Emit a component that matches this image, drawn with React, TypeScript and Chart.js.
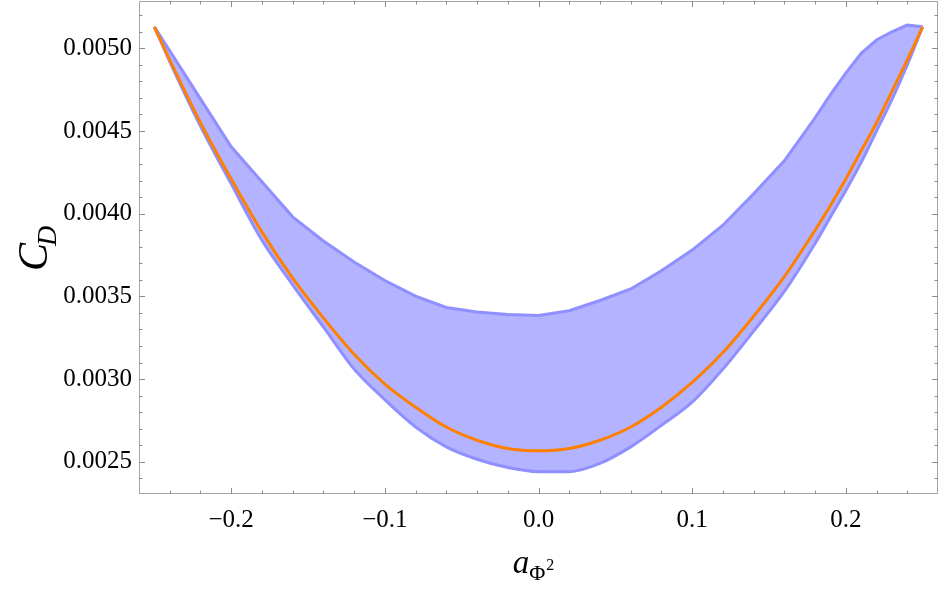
import React, { useEffect, useRef } from 'react';
import { Chart, registerables } from 'chart.js';

Chart.register(...registerables);

// ---- data ----
const xValues = [
  -0.25, -0.24, -0.22, -0.2, -0.18, -0.16, -0.14, -0.12, -0.1, -0.08, -0.06, -0.04, -0.02, 0,
  0.02, 0.04, 0.06, 0.08, 0.1, 0.12, 0.14, 0.16, 0.18, 0.19, 0.2, 0.21, 0.22, 0.23, 0.24, 0.25,
];

const upperBand = [
  0.00513, 0.004985, 0.004694, 0.004404, 0.004193, 0.003981, 0.003835, 0.003708, 0.003596, 0.003502,
  0.003433, 0.003405, 0.00339, 0.003385, 0.003413, 0.003475, 0.003545, 0.003655, 0.00378, 0.00393,
  0.00412, 0.00432, 0.00458, 0.00472, 0.00485, 0.00497, 0.00505, 0.0051, 0.00514, 0.00513,
];

const lowerBand = [
  0.00513, 0.00492, 0.00453, 0.00418, 0.00384, 0.00357, 0.003315, 0.00306, 0.002875, 0.00271,
  0.00259, 0.002515, 0.002465, 0.00244, 0.00244, 0.00249, 0.00259, 0.00272, 0.00286, 0.00306,
  0.00329, 0.00353, 0.00382, 0.00398, 0.00414, 0.00431, 0.0045, 0.00469, 0.0049, 0.00513,
];

const centralCurve = [
  0.00513, 0.00493, 0.00455, 0.00421, 0.00389, 0.00361, 0.00337, 0.00315, 0.00297, 0.00283,
  0.00271, 0.00263, 0.00258, 0.002566, 0.00258, 0.00263, 0.00271, 0.00283, 0.00298, 0.00316,
  0.00338, 0.00362, 0.0039, 0.00405, 0.00421, 0.00438, 0.00455, 0.00474, 0.00493, 0.00513,
];

const xMajorTicks = [-0.2, -0.1, 0, 0.1, 0.2];
const xTickLabels = ['\u22120.2', '\u22120.1', '0.0', '0.1', '0.2'];
const xMinorTicks = [
  -0.24, -0.22, -0.18, -0.16, -0.14, -0.12, -0.08, -0.06, -0.04, -0.02,
  0.02, 0.04, 0.06, 0.08, 0.12, 0.14, 0.16, 0.18, 0.22, 0.24,
];
const yMajorTicks = [0.0025, 0.003, 0.0035, 0.004, 0.0045, 0.005];
const yTickLabels = ['0.0025', '0.0030', '0.0035', '0.0040', '0.0045', '0.0050'];
const yMinorTicks = [
  0.0024, 0.0026, 0.0027, 0.0028, 0.0029, 0.0031, 0.0032, 0.0033, 0.0034, 0.0036, 0.0037, 0.0038,
  0.0039, 0.0041, 0.0042, 0.0043, 0.0044, 0.0046, 0.0047, 0.0048, 0.0049, 0.0051, 0.0052,
];

const X_MIN = -0.26;
const X_MAX = 0.26;
const Y_MIN = 0.002305;
const Y_MAX = 0.005286;

const SERIF = '"Liberation Serif", "Times New Roman", serif';

const framePlugin = {
  id: 'frameTicks',
  afterDatasetsDraw(chart: any) {
    const { ctx, chartArea: a, scales } = chart;
    const xs = scales.x;
    const ys = scales.y;
    ctx.save();
    ctx.lineWidth = 1;
    ctx.strokeStyle = '#a6a6a6';
    ctx.strokeRect(a.left + 0.5, a.top + 0.5, a.right - a.left - 1, a.bottom - a.top - 1);
    ctx.strokeStyle = '#8c8c8c';
    const drawX = (vals: number[], len: number) => {
      vals.forEach((v) => {
        const px = Math.round(xs.getPixelForValue(v)) + 0.5;
        ctx.beginPath();
        ctx.moveTo(px, a.bottom);
        ctx.lineTo(px, a.bottom - len);
        ctx.moveTo(px, a.top);
        ctx.lineTo(px, a.top + len);
        ctx.stroke();
      });
    };
    const drawY = (vals: number[], len: number) => {
      vals.forEach((v) => {
        const py = Math.round(ys.getPixelForValue(v)) + 0.5;
        ctx.beginPath();
        ctx.moveTo(a.left, py);
        ctx.lineTo(a.left + len, py);
        ctx.moveTo(a.right, py);
        ctx.lineTo(a.right - len, py);
        ctx.stroke();
      });
    };
    drawX(xMajorTicks, 6);
    drawX(xMinorTicks, 3.5);
    drawY(yMajorTicks, 6);
    drawY(yMinorTicks, 3.5);
    ctx.restore();
  },
  afterDraw(chart: any) {
    const { ctx, chartArea: a } = chart;
    ctx.save();
    ctx.fillStyle = '#000';
    ctx.textBaseline = 'alphabetic';
    // x-axis title: a_{Φ²}
    ctx.font = `italic 33px ${SERIF}`;
    const wa = ctx.measureText('a').width;
    ctx.font = `22px ${SERIF}`;
    const wp = ctx.measureText('\u03A6').width;
    ctx.font = `16px ${SERIF}`;
    const w2 = ctx.measureText('2').width;
    const total = wa + wp + w2 + 1;
    let sx = (a.left + a.right) / 2 - total / 2 - 5;
    ctx.font = `italic 33px ${SERIF}`;
    ctx.fillText('a', sx, 573);
    sx += wa;
    ctx.font = `22px ${SERIF}`;
    ctx.fillText('\u03A6', sx, 580);
    sx += wp + 1;
    ctx.font = `16px ${SERIF}`;
    ctx.fillText('2', sx, 570);

    // y-axis title: C_D (rotated)
    ctx.font = `italic 42px ${SERIF}`;
    const wc = ctx.measureText('C').width;
    ctx.font = `italic 28px ${SERIF}`;
    const wd = ctx.measureText('D').width;
    const cy = 247;
    ctx.save();
    ctx.translate(47, cy + (wc + wd) / 2);
    ctx.rotate(-Math.PI / 2);
    ctx.font = `italic 42px ${SERIF}`;
    ctx.fillText('C', 0, 0);
    ctx.font = `italic 28px ${SERIF}`;
    ctx.fillText('D', wc - 3, 9);
    ctx.restore();
    ctx.restore();
  },
};

export default function App() {
  const canvasRef = useRef<HTMLCanvasElement | null>(null);

  useEffect(() => {
    const canvas = canvasRef.current;
    if (!canvas) return;
    const toPts = (ys: number[]) => xValues.map((x, i) => ({ x, y: ys[i] }));
    const chart = new Chart(canvas, {
      type: 'line',
      data: {
        datasets: [
          {
            label: 'lower',
            data: toPts(lowerBand),
            borderColor: '#8f8fff',
            borderWidth: 3,
            pointRadius: 0,
            cubicInterpolationMode: 'monotone',
            fill: false,
            order: 2,
          },
          {
            label: 'upper',
            data: toPts(upperBand),
            borderColor: '#8f8fff',
            backgroundColor: '#b3b3ff',
            borderWidth: 3,
            pointRadius: 0,
            tension: 0,
            fill: 0,
            order: 1,
          },
          {
            label: 'central',
            data: toPts(centralCurve),
            borderColor: '#ff8000',
            borderWidth: 3,
            pointRadius: 0,
            cubicInterpolationMode: 'monotone',
            fill: false,
            order: 0,
          },
        ],
      },
      options: {
        animation: false,
        responsive: false,
        maintainAspectRatio: false,
        layout: { padding: { left: 0, top: 1, right: 3, bottom: 0 } },
        plugins: {
          legend: { display: false },
          tooltip: { enabled: false },
          filler: { drawTime: 'beforeDatasetsDraw' },
        },
        scales: {
          x: {
            type: 'linear',
            min: X_MIN,
            max: X_MAX,
            grid: { display: false, drawTicks: false },
            border: { display: false },
            afterBuildTicks: (s: any) => {
              s.ticks = xMajorTicks.map((v) => ({ value: v }));
            },
            afterFit: (s: any) => {
              s.height = 100;
              s.paddingLeft = 0;
              s.paddingRight = 0;
            },
            ticks: {
              autoSkip: false,
              maxRotation: 0,
              padding: 11,
              color: '#000',
              font: { family: SERIF, size: 25 },
              callback: (_v: any, i: number) => xTickLabels[i],
            },
          },
          y: {
            type: 'linear',
            min: Y_MIN,
            max: Y_MAX,
            grid: { display: false, drawTicks: false },
            border: { display: false },
            afterBuildTicks: (s: any) => {
              s.ticks = yMajorTicks.map((v) => ({ value: v }));
            },
            afterFit: (s: any) => {
              s.width = 139;
              s.paddingTop = 0;
              s.paddingBottom = 0;
            },
            ticks: {
              autoSkip: false,
              padding: 7,
              color: '#000',
              font: { family: SERIF, size: 25 },
              callback: (_v: any, i: number) => yTickLabels[i],
            },
          },
        },
      },
      plugins: [framePlugin],
    } as any);
    return () => chart.destroy();
  }, []);

  return (
    <div style={{ position: 'absolute', left: 0, top: 0, width: 941, height: 594, background: '#fff' }}>
      <canvas ref={canvasRef} width={941} height={594} style={{ display: 'block' }} />
    </div>
  );
}
